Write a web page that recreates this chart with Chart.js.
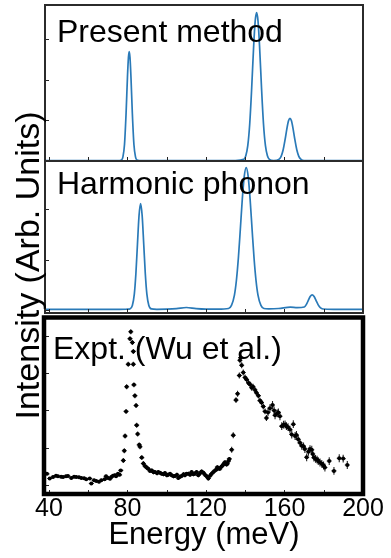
<!DOCTYPE html>
<html>
<head>
<meta charset="utf-8">
<script src="https://cdn.jsdelivr.net/npm/chart.js@4.4.0/dist/chart.umd.min.js"></script>
<style>
  body { margin: 0; background: #fff; }
  #wrap { position: relative; width: 391px; height: 558px; }
  canvas { position: absolute; left: 0; top: 0; }
</style>
</head>
<body>
<div id="wrap">
  <canvas id="top" width="391" height="558"></canvas>
  <canvas id="mid" width="391" height="558"></canvas>
  <canvas id="expt" width="391" height="558"></canvas>
</div>
<script>
// energy axis (meV)
const xLabelTicks = [40, 80, 120, 160, 200];
const xMinorTicks = [40, 60, 80, 100, 120, 140, 160, 180];

// "Present method" spectrum
const topE = [38, 60, 76, 77, 77.7, 78.5, 79.3, 80, 80.5, 80.9, 81.3, 81.8, 82.5, 83.3, 84.1, 84.8, 86, 110, 135,
  139.3, 140.3, 141.3, 142.3, 143.3, 144.3, 145.1, 145.8, 146.5, 147.3, 148.3, 149.3, 150.3, 151.3, 152.3, 154.5,
  157.3, 158.3, 159.3, 160.3, 161.3, 162.1, 162.8, 163.5, 164.3, 165.3, 166.3, 167.3, 168.3, 170, 185, 200];
const topI = [0, 0, 0, 0.5, 3.7, 16, 47, 83, 103, 108.8, 103, 83, 47, 16, 3.7, 0.5, 0, 0, 0,
  1.2, 4.8, 14.8, 36.8, 72.7, 114.5, 139.8, 147.8, 139.8, 114.5, 72.7, 36.8, 14.8, 4.8, 1.2, 0,
  1.4, 4.2, 10.5, 20.8, 32.7, 39.9, 42.2, 39.9, 32.7, 20.8, 10.5, 4.2, 1.4, 0, 0, 0];
const topTicks = [0, 40.5, 81, 121.5];

// "Harmonic phonon" spectrum
const midE = [38, 60, 76, 80, 81.2, 82.5, 83.5, 84.3, 85.1, 85.9, 86.7, 87.5, 88.3, 89.1, 89.9, 90.9, 92.2,
  95, 100, 105, 110, 115, 120, 126,
  131.5, 133, 134.5, 135.5, 136.5, 137.5, 138.5, 139.5, 140.5, 141.5, 142.5, 143.5, 144.5, 145.5, 146.5, 148, 149.5,
  152, 157, 163, 166.5, 170.1, 171.1, 172.1, 173.1, 174.1, 175.1, 176.1, 177.1, 178.1, 179.6, 185, 200];
const midI = [0.7, 0.7, 0.7, 0.8, 1.05, 4.5, 15.9, 36.3, 65.8, 94.3, 106.4, 94.3, 65.8, 36.3, 15.9, 4.5, 1.05,
  0.7, 0.8, 1.3, 2.5, 1.3, 0.8, 0.8,
  1.5, 4.6, 14.9, 29.5, 51.7, 80.5, 110.5, 133.6, 142.4, 133.6, 110.5, 80.5, 51.7, 29.5, 14.9, 4.6, 1.5,
  1.2, 1.5, 2.8, 2.4, 3.0, 5.4, 9.4, 13.4, 15.2, 13.4, 9.4, 5.4, 2.6, 1.0, 0.7, 0.7];
const midTicks = [0, 50.5, 101];

// experiment (Wu et al.)
const exptE = [
  39.0, 40.4, 42.1, 43.6, 44.6, 46.2, 47.2, 48.7, 49.7, 51.4,
  52.8, 53.9, 55.3, 56.5, 57.9, 59.0, 60.8, 61.6, 63.0, 64.1,
  65.5, 66.7, 68.4, 69.1, 70.1, 71.1, 71.8, 72.6, 73.5, 74.2,
  75.2, 76.0, 76.6, 77.9, 78.4, 78.8, 79.3, 79.6, 80.4, 81.3,
  81.7, 82.5, 83.0, 83.0, 83.3, 83.8, 84.4, 84.7, 85.2, 86.0,
  86.4, 87.3, 88.1, 88.9, 89.8, 90.6, 91.5, 92.4, 93.3, 94.0,
  95.1, 95.7, 96.6, 97.4, 98.4, 99.1, 100.1, 100.8, 101.7, 102.5,
  103.5, 104.2, 105.2, 105.9, 106.8, 107.6, 108.6, 109.3, 110.1, 111.0,
  111.9, 112.7, 113.6, 114.4, 115.2, 116.1, 117.0, 117.8, 118.7, 119.5,
  120.3, 121.2, 122.1, 122.9, 123.8, 124.6, 125.4, 125.8, 126.6, 127.1,
  127.9, 128.5, 129.2, 129.7, 130.5, 130.9, 131.5, 131.9, 133.1, 133.9,
  135.3, 136.1, 137.0, 137.3, 137.7, 138.2, 139.0, 139.9, 140.7, 141.7,
  142.4, 143.3, 144.0, 145.0, 145.7, 146.7, 147.5, 148.3, 149.2, 150.1,
  150.8, 151.6, 152.6, 153.9, 154.7, 155.2, 156.3, 156.9, 157.7, 158.6,
  159.5, 160.3, 161.0, 161.8, 162.8, 163.7, 164.5, 165.4, 166.1, 167.0,
  167.9, 168.8, 169.7, 170.4, 171.3, 172.2, 173.0, 173.9, 174.4, 175.0,
  175.8, 176.6, 177.2, 178.1, 179.0, 179.9, 180.6, 182.8, 185.2, 187.9,
  189.9, 192.0];
const exptI = [
  11.5, 6.7, 8.3, 9.5, 9, 8.5, 8.3, 9, 9.3, 7.3,
  8.5, 8.3, 8, 7.3, 7, 6, 6.7, 1.7, 5, 4.3,
  3.5, 5, 6, 9, 7.3, 6.5, 8.3, 9.5, 10, 9,
  11.7, 10.5, 15, 25, 35, 50, 75, 100, 123, 149,
  156, 145, 136, 123, 102, 91, 81, 61, 52, 41,
  39, 28, 22, 19.5, 18, 16.7, 14.5, 15, 13, 13.3,
  12, 13.3, 12.5, 11.7, 11, 12.3, 10, 10.7, 11.5, 10,
  9, 9.3, 10.5, 7.3, 8.5, 9.3, 11, 10, 11.5, 11.7,
  10.5, 13.3, 11, 11.7, 13.5, 10, 12, 14, 12.5, 10.7,
  9, 6.7, 9.5, 11.7, 13.5, 15, 16, 18.3, 17, 16.7,
  19, 20, 22, 23.3, 21, 21.7, 24.5, 26.7, 36, 50.7,
  86.5, 93, 111.5, 127, 129.7, 122, 114.5, 109.5, 107.5, 104,
  102.5, 99, 100, 96.7, 94, 91, 86, 84, 80, 75,
  68.3, 74, 78.3, 81.5, 76, 71, 73, 74, 70, 60,
  61.5, 61.7, 60, 59, 56.5, 51.5, 62, 50, 51, 46.7,
  43, 40, 39.5, 36.7, 28.3, 34, 36.7, 36, 31.7, 28,
  26.7, 26, 24.5, 23, 21.7, 20, 18, 24.5, 14.5, 27.3,
  27, 20.5];
const exptErr = [
  1.5, 1.5, 1.5, 1.5, 1.5, 1.5, 1.5, 1.5, 1.5, 1.5,
  1.5, 1.5, 1.5, 1.5, 1.5, 1.5, 1.5, 1.5, 1.5, 1.5,
  1.5, 1.5, 1.5, 1.5, 1.5, 1.5, 1.5, 1.5, 1.5, 1.5,
  1.5, 1.5, 1.5, 2.5, 2.5, 2.5, 2.5, 2.5, 2.5, 2.5,
  2.5, 2.5, 2.5, 2.5, 2.5, 2.5, 2.5, 2.5, 2.5, 2.5,
  2.5, 2.5, 2.5, 2.5, 2.5, 2, 2, 2, 2, 2,
  2, 2, 2, 2, 2, 2, 2, 2, 2, 2,
  2, 2, 2, 2, 2, 2, 2, 2, 2, 2,
  2, 2, 2, 2, 2, 2, 2, 2, 2, 2,
  2, 2, 2, 2, 2, 2, 2, 2, 2, 2,
  2, 2, 2, 2, 2, 2, 2, 2, 3, 3,
  3, 3, 3, 3, 3, 3, 3, 3, 3, 3,
  3, 3, 3, 3, 3, 3, 3, 3, 3, 3,
  3, 4, 4, 4, 4, 4, 4, 4, 4, 4,
  4, 4, 4, 4, 4, 4, 4, 4, 4, 4,
  4, 4, 4, 4, 4, 4, 4, 4, 4, 4,
  4, 4, 4, 4, 4, 4, 4, 4, 4, 4,
  4, 4];
const exptTicks = [0, 38, 76, 114, 152];

const FONT = "'Liberation Sans', Arial, sans-serif";
Chart.defaults.font.family = FONT;
Chart.defaults.color = '#000';

function pts(xs, ys) {
  return xs.map((x, i) => ({x: x, y: ys[i]}));
}

// box, inward tick marks and the panel caption
const frame = {
  id: 'frame',
  afterDatasetsDraw(chart, args, o) {
    const ctx = chart.ctx, a = chart.chartArea;
    const x = chart.scales.x, y = chart.scales.y;
    ctx.save();
    ctx.strokeStyle = '#222';
    ctx.lineWidth = 1;
    ctx.beginPath();
    for (const v of xMinorTicks) {
      const px = Math.round(x.getPixelForValue(v)) + 0.5;
      ctx.moveTo(px, a.bottom);
      ctx.lineTo(px, a.bottom - 4);
    }
    for (const v of o.yTicks) {
      const py = Math.round(y.getPixelForValue(v)) + 0.5;
      ctx.moveTo(a.left, py);
      ctx.lineTo(a.left + 4, py);
    }
    ctx.stroke();
    ctx.strokeStyle = o.boxColor;
    ctx.lineWidth = o.boxWidth;
    ctx.strokeRect(a.left - o.shift, a.top, a.right - a.left + o.shift, a.bottom - a.top);
    ctx.fillStyle = '#000';
    ctx.font = '32px ' + FONT;
    ctx.textBaseline = 'alphabetic';
    ctx.textAlign = 'left';
    ctx.fillText(o.label, a.left + o.dx, a.top + o.dy);
    if (o.sideTitle) {
      ctx.translate(39, 265.5);
      ctx.rotate(-Math.PI / 2);
      ctx.textAlign = 'center';
      ctx.font = '34px ' + FONT;
      ctx.fillText(o.sideTitle, 0, 0);
    }
    ctx.restore();
  }
};

// vertical error bars with a short crossbar
const errBars = {
  id: 'errBars',
  beforeDatasetsDraw(chart) {
    const ctx = chart.ctx, x = chart.scales.x, y = chart.scales.y;
    ctx.save();
    ctx.strokeStyle = '#222';
    ctx.lineWidth = 1.1;
    ctx.beginPath();
    exptE.forEach((e, i) => {
      const px = x.getPixelForValue(e);
      ctx.moveTo(px, y.getPixelForValue(exptI[i] - exptErr[i]));
      ctx.lineTo(px, y.getPixelForValue(exptI[i] + exptErr[i]));
      const py = y.getPixelForValue(exptI[i]);
      ctx.moveTo(px - 2.5, py);
      ctx.lineTo(px + 2.5, py);
    });
    ctx.stroke();
    ctx.restore();
  }
};

function hiddenY(min, max) {
  return { type: 'linear', display: false, min: min, max: max };
}
function hiddenX() {
  return { type: 'linear', display: false, min: 38, max: 200 };
}

function spectrum(id, xs, ys, yMin, yMax, pad, frameOpts) {
  return new Chart(document.getElementById(id), {
    type: 'line',
    data: {
      datasets: [{
        data: pts(xs, ys),
        borderColor: '#2a7ab8',
        borderWidth: 1.7,
        pointRadius: 0,
        cubicInterpolationMode: 'monotone',
        fill: false
      }]
    },
    options: {
      responsive: false,
      animation: false,
      layout: { padding: pad },
      plugins: { legend: { display: false }, tooltip: { enabled: false }, frame: frameOpts },
      scales: { x: hiddenX(), y: hiddenY(yMin, yMax) }
    },
    plugins: [frame]
  });
}

spectrum('top', topE, topI, -0.5, 155.5, {left: 45, right: 28, top: 5, bottom: 397},
  {yTicks: topTicks, boxColor: '#2b2b2b', boxWidth: 2, shift: 0, label: 'Present method', dx: 12, dy: 37});

spectrum('mid', midE, midI, -3, 149, {left: 45, right: 28, top: 161, bottom: 245},
  {yTicks: midTicks, boxColor: '#2b2b2b', boxWidth: 2, shift: 0, label: 'Harmonic phonon', dx: 12, dy: 32.5,
   sideTitle: 'Intensity (Arb. Units)'});

new Chart(document.getElementById('expt'), {
  type: 'scatter',
  data: {
    datasets: [{
      data: pts(exptE, exptI),
      pointRadius: 2,
      pointBackgroundColor: '#000',
      pointBorderWidth: 0
    }]
  },
  options: {
    responsive: false,
    animation: false,
    layout: { padding: {left: 45, right: 28, top: 317.5, bottom: 7.5} },
    plugins: {
      legend: { display: false },
      tooltip: { enabled: false },
      frame: {yTicks: exptTicks, boxColor: '#000', boxWidth: 4.5, shift: 1, label: 'Expt. (Wu et al.)', dx: 8, dy: 41}
    },
    scales: {
      x: {
        type: 'linear', min: 38, max: 200,
        afterBuildTicks: ax => { ax.ticks = xLabelTicks.map(v => ({value: v})); },
        ticks: { font: {size: 25, lineHeight: 1}, color: '#000', padding: 3, maxRotation: 0, autoSkip: false },
        grid: { display: false, drawTicks: false },
        border: { display: false },
        title: { display: true, text: 'Energy (meV)', color: '#000',
                 font: {size: 31, lineHeight: 1}, padding: {top: -5.5, bottom: 0} }
      },
      y: hiddenY(-9, 170.5)
    }
  },
  plugins: [frame, errBars]
});
</script>
</body>
</html>
